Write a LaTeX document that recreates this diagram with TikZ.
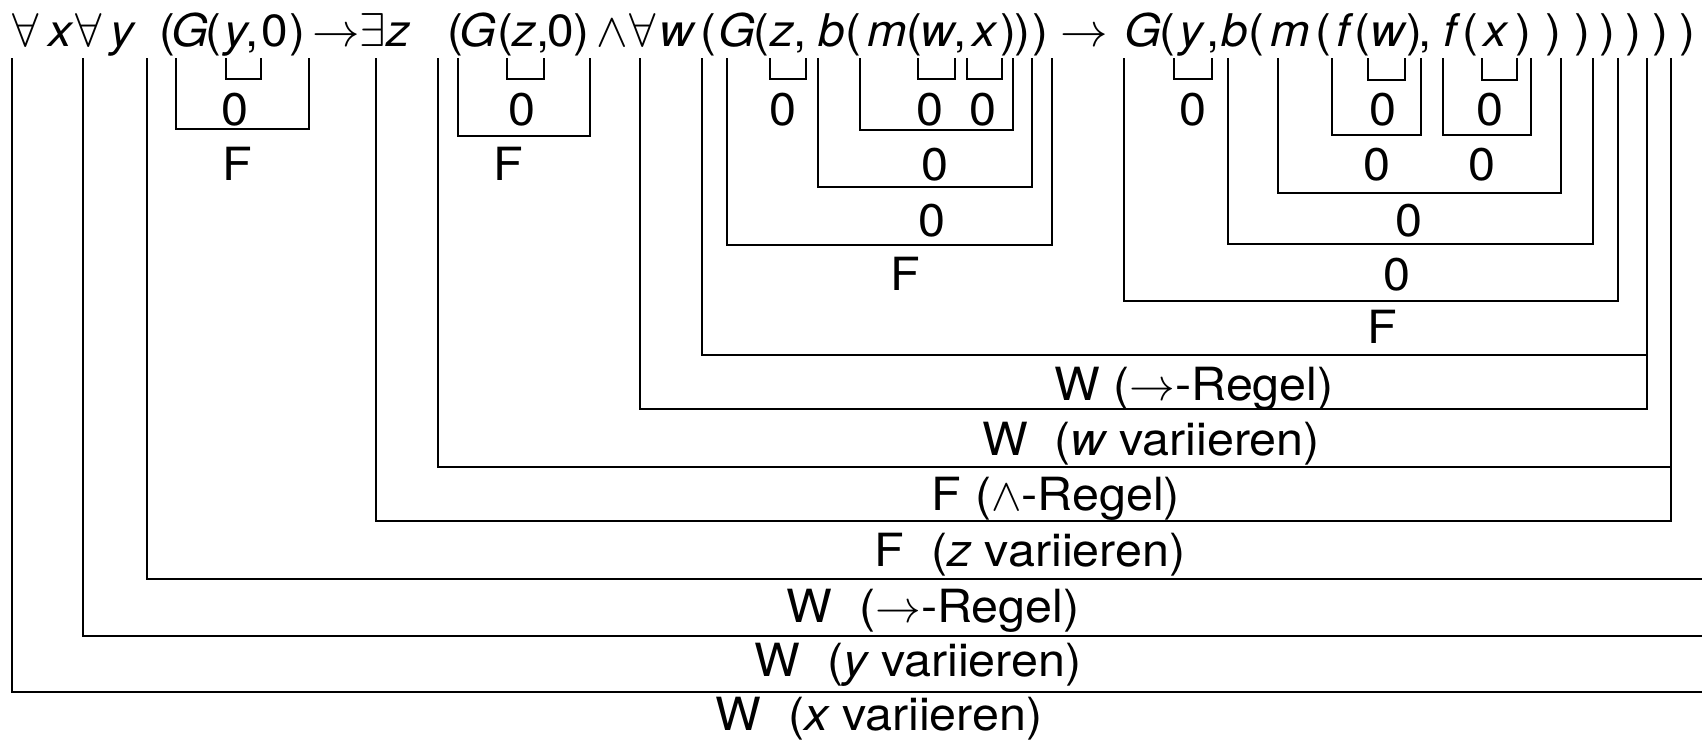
\RequirePackage{fix-cm}
\documentclass[tikz,border=0pt]{standalone}
\usepackage{fontspec}
\setmainfont{TeX Gyre Heros}[FakeStretch=1.06]
\tikzset{
  sym/.style={anchor=base,inner sep=0pt,font=\fontsize{12.8}{15}\selectfont},
  op/.style={anchor=base,inner sep=0pt,font=\fontsize{13.5}{15}\selectfont},
  val/.style={anchor=base,inner sep=0pt,font=\fontsize{13}{15}\selectfont},
  brk/.style={line width=0.65pt},
}
\begin{document}
\begin{tikzpicture}[x=0.01cm,y=-0.01cm]
\useasboundingbox (0,0) rectangle (1702,741);
% formula
\node[op] (f1) at (26,46) {$\forall$};
\node[sym] (f2) at (60,46) {\itshape x};
\node[op] (f3) at (89,46) {$\forall$};
\node[sym] (f4) at (122,46) {\itshape y};
\node[sym] (f5) at (167,46) {(};
\node[sym] (f6) at (190,46) {\itshape G};
\node[sym] (f7) at (213,46) {(};
\node[sym] (f8) at (236,46) {\itshape y};
\node[sym] (f9) at (252,46) {,};
\node[sym] (f10) at (275,46) {0};
\node[sym] (f11) at (297,46) {)};
\node[op] (f12) at (336,46) {$\rightarrow$};
\node[op] (f13) at (373,46) {$\exists$};
\node[sym] (f14) at (398,46) {\itshape z};
\node[sym] (f15) at (455,46) {(};
\node[sym] (f16) at (478,46) {\itshape G};
\node[sym] (f17) at (505,46) {(};
\node[sym] (f18) at (524,46) {\itshape z};
\node[sym] (f19) at (543,46) {,};
\node[sym] (f20) at (561,46) {0};
\node[sym] (f21) at (581,46) {)};
\node[op] (f22) at (612,46) {$\wedge$};
\node[op] (f23) at (643,46) {$\forall$};
\node[sym] (f24) at (677,46) {\itshape w};
\node[sym] (f25) at (708,46) {(};
\node[sym] (f26) at (737,46) {\itshape G};
\node[sym] (f27) at (761,46) {(};
\node[sym] (f28) at (782,46) {\itshape z};
\node[sym] (f29) at (800,46) {,};
\node[sym] (f30) at (832,46) {\itshape b};
\node[sym] (f31) at (853,46) {(};
\node[sym] (f32) at (887,46) {\itshape m};
\node[sym] (f33) at (914,46) {(};
\node[sym] (f34) at (938,46) {\itshape w};
\node[sym] (f35) at (960,46) {,};
\node[sym] (f36) at (984,46) {\itshape x};
\node[sym] (f37) at (1008,46) {)};
\node[sym] (f38) at (1022,46) {)};
\node[sym] (f39) at (1040,46) {)};
\node[op] (f40) at (1084,46) {$\rightarrow$};
\node[sym] (f41) at (1143,46) {\itshape G};
\node[sym] (f42) at (1167,46) {(};
\node[sym] (f43) at (1191,46) {\itshape y};
\node[sym] (f44) at (1213,46) {,};
\node[sym] (f45) at (1235,46) {\itshape b};
\node[sym] (f46) at (1256,46) {(};
\node[sym] (f47) at (1290,46) {\itshape m};
\node[sym] (f48) at (1323,46) {(};
\node[sym] (f49) at (1343,46) {\itshape f};
\node[sym] (f50) at (1362,46) {(};
\node[sym] (f51) at (1388,46) {\itshape w};
\node[sym] (f52) at (1414,46) {)};
\node[sym] (f53) at (1425,46) {,};
\node[sym] (f54) at (1450,46) {\itshape f};
\node[sym] (f55) at (1470,46) {(};
\node[sym] (f56) at (1495,46) {\itshape x};
\node[sym] (f57) at (1523,46) {)};
\node[sym] (f58) at (1553,46) {)};
\node[sym] (f59) at (1582,46) {)};
\node[sym] (f60) at (1607,46) {)};
\node[sym] (f61) at (1633,46) {)};
\node[sym] (f62) at (1660,46) {)};
\node[sym] (f63) at (1687,46) {)};
% G(y,0)
\draw[brk] (226,58) |- (261,79) -- (261,58);
\node[val] (v1) at (235,125) {0};
\draw[brk] (176,58) |- (309,129) -- (309,58);
\node[val] (v2) at (237,180) {F};
% G(z,0)
\draw[brk] (507,58) |- (544,79) -- (544,58);
\node[val] (v3) at (522,125) {0};
\draw[brk] (458,58) |- (590,136) -- (590,58);
\node[val] (v4) at (508,180) {F};
% G(z,b(m(w,x)))
\draw[brk] (770,58) |- (806,79) -- (806,58);
\node[val] (v5) at (783,125) {0};
\draw[brk] (918,58) |- (955,79) -- (955,58);
\node[val] (v6) at (930,125) {0};
\draw[brk] (967,58) |- (1002,79) -- (1002,58);
\node[val] (v7) at (983,125) {0};
\draw[brk] (860,58) |- (1013,130) -- (1013,58);
\node[val] (v8) at (935,180) {0};
\draw[brk] (818,58) |- (1032,187) -- (1032,58);
\node[val] (v9) at (932,236) {0};
\draw[brk] (727,58) |- (1052,245) -- (1052,58);
\node[val] (v10) at (905,290) {F};
% G(y,b(m(f(w),f(x))))
\draw[brk] (1174,58) |- (1212,79) -- (1212,58);
\node[val] (v11) at (1193,125) {0};
\draw[brk] (1368,58) |- (1405,80) -- (1405,58);
\node[val] (v12) at (1383,125) {0};
\draw[brk] (1332,58) |- (1421,135) -- (1421,58);
\node[val] (v13) at (1377,180) {0};
\draw[brk] (1482,58) |- (1517,80) -- (1517,58);
\node[val] (v14) at (1490,125) {0};
\draw[brk] (1443,58) |- (1531,135) -- (1531,58);
\node[val] (v15) at (1482,180) {0};
\draw[brk] (1278,58) |- (1561,193) -- (1561,58);
\node[val] (v16) at (1409,236) {0};
\draw[brk] (1228,58) |- (1593,244) -- (1593,58);
\node[val] (v17) at (1397,290) {0};
\draw[brk] (1124,58) |- (1618,301) -- (1618,58);
\node[val] (v18) at (1382,343) {F};
% quantifiers and connectives
\draw[brk] (702,58) |- (1647,355) -- (1647,58);
\node[val] (v19) at (1194,400) {W ($\rightarrow$-Regel)};
\draw[brk] (640,58) |- (1647,409) -- (1647,58);
\node[val] (v20) at (1151,455) {W\ \ ({\itshape w} variieren)};
\draw[brk] (438,58) |- (1671,467) -- (1671,58);
\node[val] (v21) at (1056,510) {F ($\wedge$-Regel)};
\draw[brk] (376,58) |- (1671,521) -- (1671,58);
\node[val] (v22) at (1030,566) {F\ \ ({\itshape z} variieren)};
\draw[brk] (147,58) |- (1702,579);
\node[val] (v23) at (933,622) {W\ \ ($\rightarrow$-Regel)};
\draw[brk] (83,58) |- (1702,636);
\node[val] (v24) at (918,676) {W\ \ ({\itshape y} variieren)};
\draw[brk] (12,58) |- (1702,692);
\node[val] (v25) at (879,730) {W\ \ ({\itshape x} variieren)};
\end{tikzpicture}
\end{document}
